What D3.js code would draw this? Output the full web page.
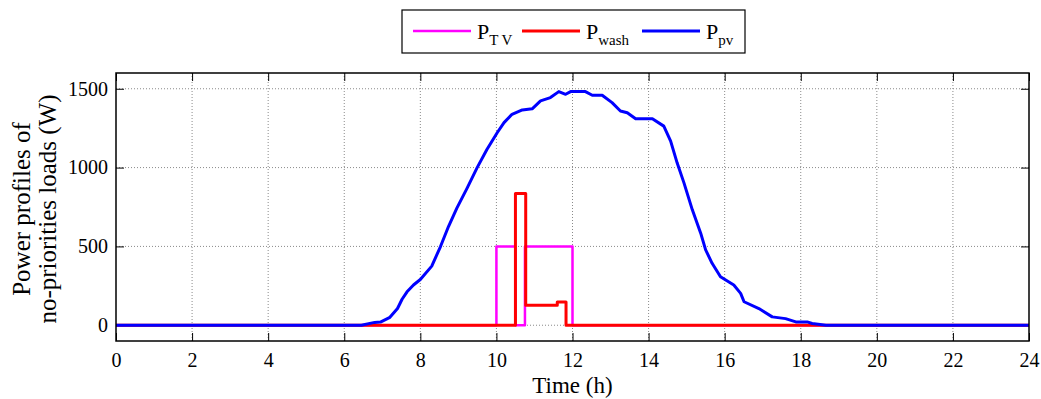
<!DOCTYPE html>
<meta charset="utf-8">
<head>
  <title>Power profiles of no-priorities loads</title>
</head>
<style>
body { margin: 0; background: #fff; }
text { font-family: "Liberation Serif", "Times New Roman", serif; fill: #000; }
</style>
<body>
  <svg width="1041" height="399"></svg>

  <script src="https://cdnjs.cloudflare.com/ajax/libs/d3/7.8.5/d3.min.js"></script>
  <script>
// values
var tvTime = [0, 10, 10.5, 10.75, 12, 24]
var tvValues = [0, 500, 0, 500, 0, 0]

var washTime = [0, 10.5, 10.77, 11.6, 11.83, 24]
var washValues = [0, 835, 127, 147, 0, 0]

var pvTime = [0, 6.45, 6.8, 6.95, 7.2, 7.4, 7.52, 7.65, 7.82, 8.0, 8.3, 8.53, 8.74, 8.96,
  9.23, 9.49, 9.75, 10.02, 10.2, 10.41, 10.68, 10.94, 11.16, 11.42, 11.64, 11.82, 11.95,
  12.34, 12.52, 12.78, 13.04, 13.26, 13.44, 13.66, 14.1, 14.4, 14.58, 14.75, 14.93, 15.15,
  15.37, 15.5, 15.67, 15.89, 16.24, 16.42, 16.51, 16.9, 17.25, 17.6, 17.87, 18.17, 18.3,
  18.66, 24]
var pvValues = [0, 0, 18, 20, 50, 106, 165, 212, 255, 290, 375, 499, 626, 743,
  870, 998, 1115, 1221, 1285, 1338, 1366, 1373, 1423, 1444, 1482, 1465, 1482,
  1482, 1459, 1459, 1412, 1359, 1348, 1310, 1310, 1263, 1168, 1030, 903, 732,
  584, 478, 393, 308, 255, 202, 149, 106, 53, 42, 21, 21, 11,
  0, 0]

var xTicks = d3.range(0, 25, 2)
var yTicks = [0, 500, 1000, 1500]

var series = [
  {name: 'TV', t: tvTime, v: tvValues, color: '#ff00ff', width: 2.5, curve: d3.curveStepAfter},
  {name: 'wash', t: washTime, v: washValues, color: '#ff0000', width: 3, curve: d3.curveStepAfter},
  {name: 'pv', t: pvTime, v: pvValues, color: '#0000ff', width: 3, curve: d3.curveLinear}
]

var plotLeft = 116, plotRight = 1029, plotTop = 73, plotBottom = 341

var x = d3.scaleLinear().domain([0, 24]).range([plotLeft, plotRight])
var y = d3.scaleLinear().domain([-100, 1600]).range([plotBottom, plotTop])

var svg = d3.select('svg')

// grid
svg.append('g')
  .selectAll('line')
  .data(xTicks.slice(1, -1))
  .enter().append('line')
  .attr('x1', d => x(d)).attr('x2', d => x(d))
  .attr('y1', plotTop).attr('y2', plotBottom)
  .attr('stroke', '#8a8a8a').attr('stroke-width', 1)
  .attr('stroke-dasharray', '1,2')

svg.append('g')
  .selectAll('line')
  .data(yTicks)
  .enter().append('line')
  .attr('x1', plotLeft).attr('x2', plotRight)
  .attr('y1', d => y(d)).attr('y2', d => y(d))
  .attr('stroke', '#8a8a8a').attr('stroke-width', 1)
  .attr('stroke-dasharray', '1,2')

// axes with inward ticks
svg.append('g')
  .attr('transform', 'translate(0,' + plotBottom + ')')
  .call(d3.axisBottom(x).tickValues(xTicks).tickSizeInner(-8).tickSizeOuter(0).tickPadding(12))
svg.append('g')
  .attr('transform', 'translate(0,' + plotTop + ')')
  .call(d3.axisTop(x).tickValues(xTicks).tickSizeInner(-8).tickSizeOuter(0).tickFormat(''))
svg.append('g')
  .attr('transform', 'translate(' + plotLeft + ',0)')
  .call(d3.axisLeft(y).tickValues(yTicks).tickSizeInner(-8).tickSizeOuter(0).tickPadding(8).tickFormat(d3.format('d')))
svg.append('g')
  .attr('transform', 'translate(' + plotRight + ',0)')
  .call(d3.axisRight(y).tickValues(yTicks).tickSizeInner(-8).tickSizeOuter(0).tickFormat(''))

svg.selectAll('.domain').remove()
svg.selectAll('.tick line').attr('stroke', '#000')
svg.selectAll('.tick text')
  .attr('font-family', '"Liberation Serif", serif')
  .attr('fill', '#000')
  .style('font-size', '20px')

// lines
series.forEach(function(s) {
  var pts = s.t.map((t, i) => [t, s.v[i]])
  svg.append('path')
    .datum(pts)
    .attr('fill', 'none')
    .attr('stroke', s.color)
    .attr('stroke-width', s.width)
    .attr('stroke-linejoin', 'round')
    .attr('d', d3.line().x(d => x(d[0])).y(d => y(d[1])).curve(s.curve))
})

// frame
svg.append('rect')
  .attr('x', plotLeft).attr('y', plotTop)
  .attr('width', plotRight - plotLeft).attr('height', plotBottom - plotTop)
  .attr('fill', 'none').attr('stroke', '#000').attr('stroke-width', 1.5)

// axis labels
svg.append('text')
  .attr('x', (plotLeft + plotRight) / 2).attr('y', 393)
  .attr('text-anchor', 'middle')
  .style('font-size', '23px')
  .text('Time (h)')

var ylab = svg.append('text')
  .attr('transform', 'translate(30,' + ((plotTop + plotBottom) / 2 + 2) + ') rotate(-90)')
  .attr('text-anchor', 'middle')
  .style('font-size', '25px')
ylab.append('tspan').attr('x', 0).attr('dy', 0).text('Power profiles of')
ylab.append('tspan').attr('x', 0).attr('dy', 26).text('no-priorities loads (W)')

// legend
var legend = svg.append('g')
legend.append('rect')
  .attr('x', 402).attr('y', 10).attr('width', 343).attr('height', 43)
  .attr('fill', '#fff').attr('stroke', '#000').attr('stroke-width', 1.2)

var legendX = [413, 522, 642]
series.forEach(function(s, i) {
  var lx = legendX[i]
  legend.append('line')
    .attr('x1', lx).attr('x2', lx + 58)
    .attr('y1', 31).attr('y2', 31)
    .attr('stroke', s.color).attr('stroke-width', s.width)
  var t = legend.append('text')
    .attr('x', lx + 64).attr('y', 39)
    .style('font-size', '22px')
  t.append('tspan').text('P')
  t.append('tspan').attr('dy', 6).style('font-size', '15px').text(s.name === 'TV' ? 'T V' : s.name)
})
  </script>
</body>
</html>
